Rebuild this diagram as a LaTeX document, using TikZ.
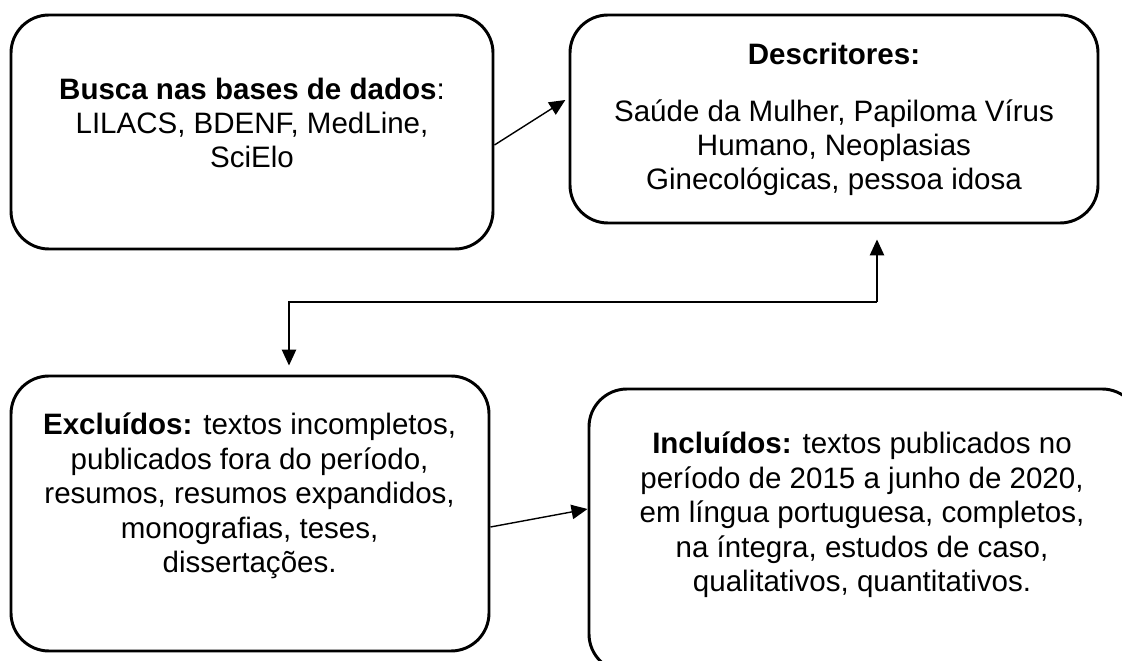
\documentclass[tikz,border=0pt]{standalone}
\usepackage{fontspec}
\setmainfont{Liberation Sans}
\usetikzlibrary{arrows.meta}
\tikzset{
  caixa/.style={draw, line width=2.1pt, rounded corners=0.95cm, inner sep=0pt},
  texto/.style={align=center, font=\fontsize{21}{24.5}\selectfont, inner sep=0pt},
  seta/.style={line width=1pt, -{Triangle[length=0.4cm,width=0.36cm]}},
}
\begin{document}
\begin{tikzpicture}
\useasboundingbox (0,0) rectangle (28.05,-16.525);
\clip (0,0) rectangle (28.05,-16.525);
% caixas
\node[caixa, minimum width=12.05cm, minimum height=5.85cm] (busca) at (6.3,-3.3) {};
\node[caixa, minimum width=13.2cm, minimum height=5.2cm] (descr) at (20.85,-2.975) {};
\node[caixa, minimum width=11.95cm, minimum height=6.875cm] (excl) at (6.25,-12.8375) {};
\node[caixa, minimum width=13.775cm, minimum height=7.075cm] (incl) at (21.6125,-13.2625) {};
% textos
\node[texto] (buscatxt) at (6.3,-3.075) {\textbf{Busca nas bases de dados}:\\ LILACS, BDENF, MedLine,\\ SciElo};
\node[texto] (descrtxt) at (20.85,-2.99) {\textbf{Descritores:}\\[0.55cm] Saúde da Mulher, Papiloma Vírus\\ Humano, Neoplasias\\ Ginecológicas, pessoa idosa};
\node[texto] (excltxt) at (6.24,-12.4) {\textbf{Excluídos:} textos incompletos,\\ publicados fora do período,\\ resumos, resumos expandidos,\\ monografias, teses,\\ dissertações.};
\node[texto] (incltxt) at (21.55,-12.875) {\textbf{Incluídos:} textos publicados no\\ período de 2015 a junho de 2020,\\ em língua portuguesa, completos,\\ na íntegra, estudos de caso,\\ qualitativos, quantitativos.};
% setas
\coordinate (dobra) at (21.925,-7.55);
\draw[seta] ([yshift=-0.325cm]busca.east) -- ([xshift=-0.08cm,yshift=0.475cm]descr.west);
\draw[seta] (dobra) -- ([yshift=-0.375cm]descr.south -| dobra);
\draw[seta] (dobra) -| ([xshift=0.975cm,yshift=0.225cm]excl.north);
\draw[seta] ([yshift=-0.3375cm]excl.east) -- ([yshift=0.5375cm]incl.west);
\end{tikzpicture}
\end{document}
